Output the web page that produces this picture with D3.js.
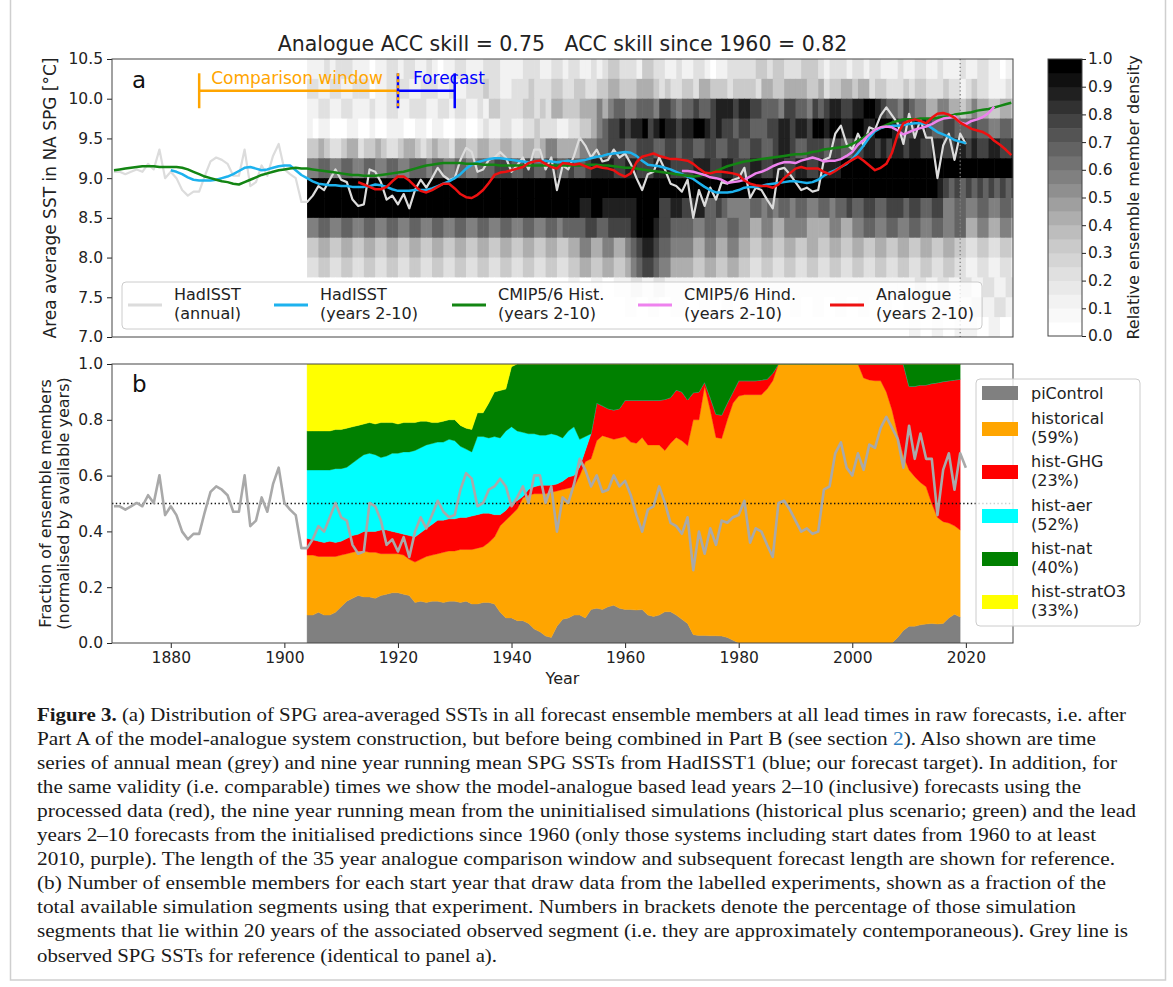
<!DOCTYPE html>
<html>
<head>
<meta charset="utf-8">
<script src="https://cdn.jsdelivr.net/npm/d3@7"></script>
<style>
  body { margin: 0; background: #fff; }
</style>
</head>
<body>
<div id="chart"></div>
<script>
// ---------- data ----------

// HadISST annual mean SPG SST (degC), 1870-2020
const annualStart = 1870;
const hadisstAnnual = [
  9.08, 9.08, 9.05, 9.08, 9.11, 9.08, 9.18, 9.11, 9.36, 9.00,
  9.08, 9.00, 8.85, 8.78, 8.83, 8.83, 9.03, 9.21, 9.26, 9.23,
  9.18, 9.03, 9.03, 9.36, 8.90, 8.95, 9.16, 9.03, 9.28, 9.43,
  9.11, 9.05, 9.00, 8.70, 8.70, 8.78, 8.90, 8.85, 8.98, 9.11,
  8.98, 8.95, 8.73, 8.65, 8.67, 9.11, 9.08, 8.95, 8.73, 8.78,
  8.67, 8.80, 8.62, 8.85, 8.98, 8.88, 9.00, 9.13, 9.03, 8.98,
  9.00, 9.23, 9.38, 9.33, 9.08, 9.11, 9.23, 9.26, 9.33, 9.26,
  9.08, 9.16, 9.26, 9.11, 9.36, 9.36, 9.11, 9.26, 8.85, 9.16,
  9.11, 9.28, 9.51, 9.41, 9.26, 9.36, 9.21, 9.23, 9.36, 9.26,
  9.31, 9.18, 9.00, 8.85, 9.05, 9.08, 9.26, 9.11, 8.93, 8.90,
  8.83, 8.98, 8.50, 8.85, 8.65, 8.88, 8.73, 8.95, 8.93, 8.98,
  9.00, 9.13, 8.75, 8.88, 8.85, 8.73, 8.62, 9.11, 9.13, 9.05,
  8.95, 8.85, 8.88, 8.83, 8.85, 9.23, 9.26, 9.56, 9.66, 9.43,
  9.36, 9.56, 9.41, 9.64, 9.61, 9.79, 9.89, 9.79, 9.69, 9.43,
  9.81, 9.51, 9.74, 9.51, 9.51, 9.00, 9.41, 9.56, 9.23, 9.56,
  9.43
];

// HadISST years 2-10 running mean, 1880-2020
const runningStart = 1880;
const hadisstRunning = [
  9.10, 9.08, 9.05, 9.01, 8.98, 8.97, 8.97, 8.97, 8.98, 9.00,
  9.02, 9.05, 9.09, 9.13, 9.14, 9.12, 9.10, 9.11, 9.13, 9.15,
  9.16, 9.16, 9.10, 9.04, 9.00, 8.96, 8.93, 8.92, 8.91, 8.91,
  8.90, 8.90, 8.89, 8.89, 8.89, 8.90, 8.92, 8.91, 8.89, 8.86,
  8.84, 8.84, 8.84, 8.85, 8.85, 8.85, 8.87, 8.90, 8.93, 8.96,
  9.00, 9.05, 9.12, 9.17, 9.20, 9.22, 9.24, 9.25, 9.25, 9.24,
  9.23, 9.22, 9.21, 9.20, 9.21, 9.21, 9.22, 9.21, 9.20, 9.21,
  9.22, 9.21, 9.22, 9.23, 9.25, 9.27, 9.28, 9.30, 9.31, 9.32,
  9.33, 9.32, 9.28, 9.22, 9.17, 9.16, 9.15, 9.13, 9.11, 9.08,
  9.05, 9.02, 8.99, 8.94, 8.89, 8.85, 8.82, 8.82, 8.82, 8.83,
  8.85, 8.88, 8.89, 8.89, 8.90, 8.92, 8.93, 8.94, 8.95, 8.96,
  8.96, 8.95, 8.94, 8.95, 8.98, 9.03, 9.07, 9.10, 9.14, 9.18,
  9.24, 9.32, 9.41, 9.51, 9.59, 9.63, 9.65, 9.66, 9.66, 9.67,
  9.68, 9.69, 9.69, 9.68, 9.63, 9.58, 9.55, 9.52, 9.48, 9.46,
  9.44
];

// CMIP5/6 historical years 2-10, 1870-2028
const histStart = 1870;
const cmipHist = [
  9.10, 9.11, 9.12, 9.13, 9.14, 9.15, 9.15, 9.15, 9.14, 9.14,
  9.14, 9.14, 9.13, 9.11, 9.08, 9.05, 9.02, 9.00, 8.98, 8.96,
  8.95, 8.93, 8.92, 8.95, 8.98, 9.01, 9.04, 9.06, 9.08, 9.10,
  9.11, 9.12, 9.13, 9.12, 9.12, 9.11, 9.10, 9.09, 9.08, 9.07,
  9.06, 9.05, 9.04, 9.04, 9.03, 9.03, 9.03, 9.04, 9.05, 9.06,
  9.07, 9.08, 9.10, 9.12, 9.14, 9.16, 9.17, 9.18, 9.19, 9.19,
  9.19, 9.19, 9.18, 9.18, 9.18, 9.17, 9.17, 9.17, 9.16, 9.16,
  9.16, 9.16, 9.16, 9.16, 9.16, 9.16, 9.16, 9.16, 9.16, 9.16,
  9.16, 9.16, 9.16, 9.17, 9.17, 9.17, 9.16, 9.16, 9.15, 9.14,
  9.13, 9.13, 9.12, 9.11, 9.10, 9.09, 9.08, 9.07, 9.06, 9.05,
  9.04, 9.03, 9.02, 9.03, 9.05, 9.07, 9.09, 9.12, 9.15, 9.17,
  9.19, 9.21, 9.22, 9.23, 9.24, 9.25, 9.26, 9.27, 9.28, 9.29,
  9.30, 9.30, 9.31, 9.33, 9.34, 9.36, 9.37, 9.38, 9.39, 9.40,
  9.43, 9.47, 9.51, 9.56, 9.61, 9.64, 9.67, 9.70, 9.72, 9.74,
  9.74, 9.74, 9.75, 9.75, 9.75, 9.76, 9.77, 9.78, 9.80, 9.81,
  9.82, 9.83, 9.85, 9.86, 9.87, 9.89, 9.91, 9.93, 9.95
];

// CMIP5/6 hindcasts years 2-10, 1970-2025
const hindStart = 1970;
const cmipHind = [
  9.09, 9.09, 9.08, 9.06, 9.04, 9.01, 9.00, 8.98, 8.94, 8.95,
  8.96, 8.98, 9.02, 9.06, 9.08, 9.11, 9.15, 9.18, 9.20, 9.20,
  9.19, 9.22, 9.24, 9.26, 9.24, 9.21, 9.22, 9.22, 9.24, 9.28,
  9.33, 9.42, 9.48, 9.55, 9.61, 9.64, 9.65, 9.64, 9.60, 9.55,
  9.58, 9.61, 9.63, 9.65, 9.68, 9.72, 9.75, 9.76, 9.78, 9.70,
  9.68, 9.72, 9.74, 9.77, 9.82, 9.90
];

// Analogue forecast years 2-10, 1913-2028
const analogueStart = 1913;
const analogue = [
  8.95, 8.92, 8.89, 8.86, 8.86, 8.89, 8.96,
  9.02, 9.02, 8.97, 8.90, 8.84, 8.82, 8.85, 8.89, 8.93, 8.93,
  8.87, 8.80, 8.76, 8.75, 8.79, 8.85, 8.94, 9.04, 9.07, 9.08,
  9.10, 9.12, 9.14, 9.19, 9.21, 9.22, 9.18, 9.14, 9.12, 9.19,
  9.18, 9.17, 9.18, 9.15, 9.12, 9.15, 9.13, 9.12, 9.10, 9.05,
  9.02, 9.06, 9.20, 9.27, 9.29, 9.31, 9.28, 9.26, 9.24, 9.24,
  9.23, 9.22, 9.18, 9.12, 9.07, 9.06, 9.08, 9.08, 9.07, 9.06,
  9.04, 8.97, 8.93, 8.91, 8.90, 8.90, 8.88, 8.92, 9.00, 9.06,
  9.12, 9.14, 9.12, 9.12, 9.12, 9.08, 9.05, 9.09, 9.14, 9.19,
  9.23, 9.27, 9.22, 9.16, 9.10, 9.13, 9.18, 9.32, 9.55, 9.69,
  9.72, 9.74, 9.72, 9.69, 9.76, 9.81, 9.82, 9.80, 9.76, 9.70,
  9.66, 9.62, 9.60, 9.58, 9.54, 9.47, 9.42, 9.36, 9.29
];

// relative ensemble member density, one string per 0.25 degC bin (top edge listed),
// one digit per year 1904-2028, digit/9 = density
const densityStart = 1904;
const densityBinTop = [10.5, 10.25, 10.0, 9.75, 9.5, 9.25, 9.0, 8.75, 8.5, 8.25, 8.0, 7.75, 7.5, 7.25];
const densityRows = [
  "111212 2211101122 1221121011 2211122211 1122211221 2211212332 2213322112 1122101122 2223323322 2333212221 2212211121 1221121112 112211011",
  "221122 1122201122 2211222112 1122232211 2223222332 2332233443 3344432322 3324433323 3332443344 4433423344 3442332223 2332223221 232211121",
  "112211 2211121122 1122211221 2211213322 2233232443 3344454566 5566657765 6676678887 8877666577 6657678877 8899876657 6554455443 454433443",
  "101100 0110010011 1001101100 1100121122 1122322211 2233456778 7889789887 8899878776 7766677887 8879989988 9988999877 7887667766 676655665",
  "334322 3442334322 3443234332 4433443344 3344345544 4455566777 6677766776 7766776677 6677667887 6677767766 7788787887 8877887788 787788778",
  "556655 6655665566 5566656655 6655666777 6677667766 7667888877 8877788877 7788877887 7788778877 8877888899 9999999999 9999999999 999999999",
  "999999 9999999999 9999999999 9999999999 9999999999 9999999999 9999999999 9999999999 9999999999 9999999999 9999999999 9999987676 767676767",
  "999999 9999999999 9999999999 9999999999 9999999999 9988998888 8899997788 7788667655 5566565665 6655665667 6677667776 7766775566 556655665",
  "556655 6655665566 5566556655 6655665566 5566556656 6667766777 7899987766 6655665566 5544554455 5544445544 5566556655 6655665566 445544554",
  "334433 4433443344 3344334433 4433443344 3344334433 4455445544 5678876655 5544554455 4433443344 3344334433 4433443344 3344334433 223322332",
  "223322 3322332233 2233223322 3322332233 2233223322 3344334433 4567765544 4433443344 3322332233 2233223322 3322332233 2233223322 112211221",
  "000000 0000000000 0000000000 0000000000 0000000000 1100110011 1221122111 1111111111 1111111111 1111111111 1111111111 1221122112 211221122",
  "000000 0000000000 0000000000 0000000000 0000000000 0000000000 1100110011 1001100110 0110011001 1001100110 0110011001 1111111111 122112211",
  "000000 0000000000 0000000000 0000000000 0000000000 0000000000 0000000000 0000000000 0000000000 0000000000 0000000000 1100110011 110011001"
];

// panel (b): fraction of ensemble members per start year 1904-2019
const stackStart = 1904;
const piControl = [
  .10,.10,.11,.10,.10,.11,
  .13,.15,.16,.17,.165,.165,.16,.17,.175,.18,
  .18,.175,.17,.145,.15,.145,.15,.15,.145,.15,
  .15,.145,.15,.14,.14,.145,.145,.14,.11,.09,
  .09,.08,.08,.07,.05,.04,.025,.02,.06,.085,
  .09,.10,.10,.09,.12,.125,.12,.13,.135,.125,
  .12,.12,.118,.12,.10,.095,.10,.112,.112,.10,
  .085,.07,.03,.027,.027,.026,.026,.025,.02,.01,
  0,0,0,0,0,0,0,0,0,0,
  0,0,0,0,0,0,0,0,0,0,
  0,0,0,0,0,0,0,0,.02,.045,
  .06,.06,.065,.068,.07,.068,.07,.09,.103,.093
];
const historical = [
  .215,.215,.20,.21,.21,.20,
  .185,.17,.165,.16,.165,.16,.165,.15,.145,.14,
  .14,.14,.13,.145,.15,.165,.165,.17,.18,.18,
  .18,.19,.185,.195,.20,.20,.215,.24,.31,.35,
  .37,.40,.44,.46,.485,.495,.51,.52,.485,.465,
  .465,.46,.50,.56,.54,.60,.623,.607,.595,.61,
  .62,.60,.598,.617,.61,.615,.61,.578,.604,.637,
  .64,.637,.77,.773,.893,.809,.711,.708,.78,.85,
  .885,.89,.89,.89,.89,.91,.94,1,1,1,
  1,1,1,1,1,1,1,1,1,1,
  1,1,.95,.943,.94,.94,.90,.835,.73,.625,
  .56,.536,.51,.492,.43,.382,.365,.34,.317,.312
];
const histGHG = [
  .06,.055,.055,.05,.055,.05,
  .05,.055,.06,.06,.07,.075,.075,.085,.085,.08,
  .075,.075,.085,.09,.095,.10,.11,.12,.115,.115,
  .115,.115,.115,.12,.12,.12,.105,.08,.04,.035,
  .04,.03,.005,.02,.025,.03,.03,.025,.025,.03,
  .04,.04,.03,.04,.09,.135,.107,.103,.105,.105,
  .13,.15,.154,.133,.16,.16,.16,.183,.164,.17,
  .175,.164,.097,.10,.015,.045,.083,.084,.06,.04,
  .055,.05,.05,.05,.053,.035,.027,0,0,0,
  0,0,0,0,0,0,0,0,0,0,
  0,0,.05,.057,.06,.06,.10,.165,.25,.33,
  .30,.324,.35,.365,.43,.483,.502,.51,.523,.54
];
const histAer = [
  .245,.25,.255,.26,.255,.265,
  .26,.255,.26,.27,.275,.28,.275,.26,.265,.28,
  .285,.295,.30,.31,.305,.30,.29,.28,.28,.285,
  .28,.255,.245,.23,.28,.275,.27,.28,.275,.285,
  .275,.25,.23,.20,.19,.18,.18,.185,.175,.155,
  .165,.175,.10,.05,0,0,0,0,0,0,
  0,0,0,0,0,0,0,0,0,0,
  0,0,0,0,0,0,0,0,0,0,
  0,0,0,0,0,0,0,0,0,0,
  0,0,0,0,0,0,0,0,0,0,
  0,0,0,0,0,0,0,0,0,0,
  0,0,0,0,0,0,0,0,0,0
];
const histNat = [
  .14,.14,.14,.14,.14,.14,
  .14,.14,.13,.12,.11,.11,.11,.125,.12,.11,
  .105,.105,.105,.10,.095,.085,.075,.07,.075,.07,
  .075,.075,.075,.08,.085,.085,.125,.16,.17,.15,
  .215,.24,.245,.25,.25,.255,.255,.25,.255,.265,
  .24,.225,.27,.26,.25,.14,.15,.16,.165,.16,
  .13,.13,.13,.13,.13,.13,.13,.127,.12,.093,
  .10,.129,.103,.10,.065,.12,.18,.183,.14,.10,
  .06,.06,.06,.06,.057,.055,.033,0,0,0,
  0,0,0,0,0,0,0,0,0,0,
  0,0,0,0,0,0,0,0,0,0,
  .08,.08,.075,.075,.07,.067,.063,.06,.057,.055
];
const histStratO3 = [
  .24,.24,.24,.24,.24,.235,
  .235,.23,.225,.22,.215,.21,.215,.21,.21,.21,
  .215,.21,.21,.21,.205,.205,.21,.21,.205,.20,
  .20,.22,.23,.235,.175,.175,.14,.10,.095,.09,
  .01,0,0,0,0,0,0,0,0,0,
  0,0,0,0,0,0,0,0,0,0,
  0,0,0,0,0,0,0,0,0,0,
  0,0,0,0,0,0,0,0,0,0,
  0,0,0,0,0,0,0,0,0,0,
  0,0,0,0,0,0,0,0,0,0,
  0,0,0,0,0,0,0,0,0,0,
  0,0,0,0,0,0,0,0,0,0
];

const experiments = ["piControl", "historical", "hist-GHG", "hist-aer", "hist-nat", "hist-stratO3"];
const experimentPct = [null, "(59%)", "(23%)", "(52%)", "(40%)", "(33%)"];
const experimentColors = ["#808080", "#ffa500", "#ff0000", "#00ffff", "#008000", "#ffff00"];
const experimentSeries = [piControl, historical, histGHG, histAer, histNat, histStratO3];

const compWindow = [1885, 1920];
const forecastSpan = [1920, 1930];
const lastStartYear = 2019;

const yearTicks = [1880, 1900, 1920, 1940, 1960, 1980, 2000, 2020];
const sstTicks = [7.0, 7.5, 8.0, 8.5, 9.0, 9.5, 10.0, 10.5];
const fracTicks = [0, 0.2, 0.4, 0.6, 0.8, 1.0];
const densityTicks = [0, 0.1, 0.2, 0.3, 0.4, 0.5, 0.6, 0.7, 0.8, 0.9, 1.0];

const captionLines = [
  "(a) Distribution of SPG area-averaged SSTs in all forecast ensemble members at all lead times in raw forecasts, i.e. after",
  "Part A of the model-analogue system construction, but before being combined in Part B (see section 2). Also shown are time",
  "series of annual mean (grey) and nine year running mean SPG SSTs from HadISST1 (blue; our forecast target). In addition, for",
  "the same validity (i.e. comparable) times we show the model-analogue based lead years 2\u201310 (inclusive) forecasts using the",
  "processed data (red), the nine year running mean from the uninitialised simulations (historical plus scenario; green) and the lead",
  "years 2\u201310 forecasts from the initialised predictions since 1960 (only those systems including start dates from 1960 to at least",
  "2010, purple). The length of the 35 year analogue comparison window and subsequent forecast length are shown for reference.",
  "(b) Number of ensemble members for each start year that draw data from the labelled experiments, shown as a fraction of the",
  "total available simulation segments using that experiment. Numbers in brackets denote the percentage of those simulation",
  "segments that lie within 20 years of the associated observed segment (i.e. they are approximately contemporaneous). Grey line is",
  "observed SPG SSTs for reference (identical to panel a)."
];

// ---------- layout ----------
const W = 1173, H = 987;
const font = '"DejaVu Sans", sans-serif';
const axA = {left: 112, right: 1013, top: 59, bottom: 337};
const axB = {left: 112, right: 1013, top: 364, bottom: 643};
const cbBox = {left: 1048, right: 1082, top: 59, bottom: 336};

const svg = d3.select("#chart").append("svg")
  .attr("width", W).attr("height", H)
  .style("font-family", font);

// outer figure frame
svg.append("rect")
  .attr("x", 10.5).attr("y", -2).attr("width", 1155).attr("height", 982)
  .attr("fill", "none").attr("stroke", "#cfcfcf").attr("stroke-width", 1.5);

const x = d3.scaleLinear().domain([1869.65, 2028.3]).range([axA.left, axA.right]);
const yA = d3.scaleLinear().domain([7, 10.5]).range([axA.bottom, axA.top]);
const yB = d3.scaleLinear().domain([0, 1]).range([axB.bottom, axB.top]);
// the grey SST line in (b) is the same series put on the fraction axis
const yBsst = d3.scaleLinear().domain([7.84, 10.37]).range([axB.bottom, axB.top]);

const toPoints = (arr, start) => arr.map((v, i) => ({year: start + i, v: v}));

const defs = svg.append("defs");
defs.append("clipPath").attr("id", "clipA").append("rect")
  .attr("x", axA.left).attr("y", axA.top)
  .attr("width", axA.right - axA.left).attr("height", axA.bottom - axA.top);
defs.append("clipPath").attr("id", "clipB").append("rect")
  .attr("x", axB.left).attr("y", axB.top)
  .attr("width", axB.right - axB.left).attr("height", axB.bottom - axB.top);

function styleAxis(g, size) {
  g.attr("font-family", null).attr("font-size", null)
    .style("font-size", size).style("font-family", font);
  g.select(".domain").remove();
  g.selectAll(".tick line").attr("stroke", "#222");
  g.selectAll(".tick text").attr("fill", "#222");
}

// ---------- panel a ----------
const gA = svg.append("g");
const plotA = gA.append("g").attr("clip-path", "url(#clipA)");

// density colour: 20 discrete grey levels
const greyLevels = d3.range(20).map(i => d3.interpolateGreys(i / 19));
const densityColor = d3.scaleQuantize().domain([0, 1]).range(greyLevels);

const cells = [];
densityRows.forEach((row, r) => {
  row.replace(/ /g, "").split("").forEach((ch, i) => {
    cells.push({year: densityStart + i, top: densityBinTop[r], d: +ch / 9});
  });
});
plotA.append("g").selectAll("rect")
  .data(cells)
  .join("rect")
    .attr("x", d => x(d.year))
    .attr("y", d => yA(d.top))
    .attr("width", d => x(d.year + 1) - x(d.year) + 0.6)
    .attr("height", d => yA(d.top - 0.25) - yA(d.top) + 0.6)
    .attr("fill", d => densityColor(d.d));

// last start year marker
plotA.append("line")
  .attr("x1", x(lastStartYear)).attr("x2", x(lastStartYear))
  .attr("y1", axA.top).attr("y2", axA.bottom)
  .attr("stroke", "#808080").attr("stroke-width", 1.3).attr("stroke-dasharray", "1.3,2.6");

// comparison window / forecast markers
const annY = 10.1, annH = 0.22;
const ann = gA.append("g").attr("stroke-width", 2.5).attr("fill", "none");
ann.append("line").attr("stroke", "#ffa500")
  .attr("x1", x(compWindow[0])).attr("x2", x(compWindow[1])).attr("y1", yA(annY)).attr("y2", yA(annY));
ann.append("line").attr("stroke", "#ffa500")
  .attr("x1", x(compWindow[0])).attr("x2", x(compWindow[0])).attr("y1", yA(annY + annH)).attr("y2", yA(annY - annH));
ann.append("line").attr("stroke", "#0000ff")
  .attr("x1", x(forecastSpan[0])).attr("x2", x(forecastSpan[1])).attr("y1", yA(annY)).attr("y2", yA(annY));
ann.append("line").attr("stroke", "#0000ff")
  .attr("x1", x(forecastSpan[1])).attr("x2", x(forecastSpan[1])).attr("y1", yA(annY + annH)).attr("y2", yA(annY - annH));
ann.append("line").attr("stroke", "#0000ff")
  .attr("x1", x(forecastSpan[0])).attr("x2", x(forecastSpan[0])).attr("y1", yA(annY + annH)).attr("y2", yA(annY - annH));
ann.append("line").attr("stroke", "#ffa500").attr("stroke-dasharray", "3,3")
  .attr("x1", x(forecastSpan[0])).attr("x2", x(forecastSpan[0])).attr("y1", yA(annY + annH)).attr("y2", yA(annY - annH));
gA.append("text").attr("x", x(compWindow[0]) + 12).attr("y", yA(annY) - 7)
  .attr("fill", "#ffa500").style("font-size", "17px").text("Comparison window");
gA.append("text").attr("x", x(forecastSpan[0]) + 15).attr("y", yA(annY) - 7)
  .attr("fill", "#0000ff").style("font-size", "17px").text("Forecast");

// lines
const lineA = d3.line().x(d => x(d.year)).y(d => yA(d.v));
const seriesA = [
  {data: toPoints(hadisstAnnual, annualStart), color: "#dcdcdc", w: 2.2},
  {data: toPoints(hadisstRunning, runningStart), color: "#1db2ee", w: 2.5},
  {data: toPoints(cmipHist, histStart), color: "#138513", w: 2.5},
  {data: toPoints(cmipHind, hindStart), color: "#ee82ee", w: 2.5},
  {data: toPoints(analogue, analogueStart), color: "#ee1111", w: 2.5}
];
plotA.selectAll("path.series")
  .data(seriesA)
  .join("path")
    .attr("class", "series")
    .attr("d", d => lineA(d.data))
    .attr("fill", "none")
    .attr("stroke", d => d.color)
    .attr("stroke-width", d => d.w)
    .attr("stroke-linejoin", "round");

// legend a
const legA = gA.append("g");
legA.append("rect").attr("x", 122).attr("y", 282).attr("width", 860).attr("height", 47)
  .attr("rx", 4).attr("fill", "#fff").attr("fill-opacity", 0.8).attr("stroke", "#cccccc");
const legAItems = [
  {lines: ["HadISST", "(annual)"], x0: 128},
  {lines: ["HadISST", "(years 2-10)"], x0: 274},
  {lines: ["CMIP5/6 Hist.", "(years 2-10)"], x0: 452},
  {lines: ["CMIP5/6 Hind.", "(years 2-10)"], x0: 638},
  {lines: ["Analogue", "(years 2-10)"], x0: 830}
];
legAItems.forEach((it, i) => {
  legA.append("line").attr("x1", it.x0).attr("x2", it.x0 + 34).attr("y1", 305).attr("y2", 305)
    .attr("stroke", seriesA[i].color).attr("stroke-width", 3);
  const t = legA.append("text").attr("x", it.x0 + 46).attr("y", 300).style("font-size", "16px").attr("fill", "#222");
  t.append("tspan").attr("x", it.x0 + 46).attr("y", 300).text(it.lines[0]);
  t.append("tspan").attr("x", it.x0 + 46).attr("y", 319).text(it.lines[1]);
});

// axes a
const axisAY = gA.append("g").attr("transform", `translate(${axA.left},0)`)
  .call(d3.axisLeft(yA).tickValues(sstTicks).tickFormat(d3.format(".1f")).tickSize(5).tickPadding(4));
styleAxis(axisAY, "15.5px");
gA.append("rect").attr("x", axA.left).attr("y", axA.top)
  .attr("width", axA.right - axA.left).attr("height", axA.bottom - axA.top)
  .attr("fill", "none").attr("stroke", "#444").attr("stroke-width", 1);
gA.append("text").attr("transform", `translate(50,${(axA.top + axA.bottom) / 2}) rotate(-90)`)
  .attr("text-anchor", "middle").attr("dy", "0.35em").style("font-size", "17px").attr("fill", "#222")
  .text("Area average SST in NA SPG [\u00b0C]");
gA.append("text").attr("x", 132).attr("y", 88).style("font-size", "23px").attr("fill", "#111").text("a");

svg.append("text").attr("x", (axA.left + axA.right) / 2).attr("y", 51)
  .attr("text-anchor", "middle").style("font-size", "20.5px").style("white-space", "pre")
  .attr("xml:space", "preserve").attr("fill", "#222")
  .text("Analogue ACC skill = 0.75   ACC skill since 1960 = 0.82");

// colorbar
const cbY = d3.scaleLinear().domain([0, 1]).range([cbBox.bottom, cbBox.top]);
svg.append("g").selectAll("rect")
  .data(greyLevels)
  .join("rect")
    .attr("x", cbBox.left)
    .attr("y", (c, i) => cbY((i + 1) / 20))
    .attr("width", cbBox.right - cbBox.left)
    .attr("height", cbY(0) - cbY(0.05) + 0.4)
    .attr("fill", c => c);
svg.append("rect").attr("x", cbBox.left).attr("y", cbBox.top)
  .attr("width", cbBox.right - cbBox.left).attr("height", cbBox.bottom - cbBox.top)
  .attr("fill", "none").attr("stroke", "#444");
const cbAxis = svg.append("g").attr("transform", `translate(${cbBox.right},0)`)
  .call(d3.axisRight(cbY).tickValues(densityTicks).tickFormat(d3.format(".1f")).tickSize(4).tickPadding(2));
styleAxis(cbAxis, "15.5px");
svg.append("text").attr("transform", `translate(1133,${(cbBox.top + cbBox.bottom) / 2}) rotate(-90)`)
  .attr("text-anchor", "middle").attr("dy", "0.35em").style("font-size", "16px").attr("fill", "#222")
  .text("Relative ensemble member density");

// ---------- panel b ----------
const gB = svg.append("g");
const plotB = gB.append("g").attr("clip-path", "url(#clipB)");

const stackRows = piControl.map((v, i) => {
  const row = {year: stackStart + i};
  experiments.forEach((k, j) => { row[k] = experimentSeries[j][i]; });
  return row;
});
const stacked = d3.stack().keys(experiments)(stackRows);
const areaB = d3.area()
  .x(d => x(d.data.year))
  .y0(d => yB(d[0]))
  .y1(d => yB(d[1]));
plotB.selectAll("path.layer")
  .data(stacked)
  .join("path")
    .attr("class", "layer")
    .attr("d", areaB)
    .attr("fill", (d, i) => experimentColors[i])
    .attr("stroke", (d, i) => experimentColors[i])
    .attr("stroke-width", 0.4);

plotB.append("line")
  .attr("x1", axB.left).attr("x2", axB.right).attr("y1", yB(0.5)).attr("y2", yB(0.5))
  .attr("stroke", "#111").attr("stroke-width", 1.4).attr("stroke-dasharray", "1.4,2.4");

plotB.append("path")
  .datum(toPoints(hadisstAnnual, annualStart))
  .attr("d", d3.line().x(d => x(d.year)).y(d => yBsst(d.v)))
  .attr("fill", "none").attr("stroke", "#a9a9a9").attr("stroke-width", 2.6).attr("stroke-linejoin", "round");

const axisBY = gB.append("g").attr("transform", `translate(${axB.left},0)`)
  .call(d3.axisLeft(yB).tickValues(fracTicks).tickFormat(d3.format(".1f")).tickSize(5).tickPadding(4));
styleAxis(axisBY, "15.5px");
const axisBX = gB.append("g").attr("transform", `translate(0,${axB.bottom})`)
  .call(d3.axisBottom(x).tickValues(yearTicks).tickFormat(d3.format("d")).tickSize(5).tickPadding(4));
styleAxis(axisBX, "15.5px");
gB.append("rect").attr("x", axB.left).attr("y", axB.top)
  .attr("width", axB.right - axB.left).attr("height", axB.bottom - axB.top)
  .attr("fill", "none").attr("stroke", "#444").attr("stroke-width", 1);
gB.append("text").attr("x", (axB.left + axB.right) / 2).attr("y", 684)
  .attr("text-anchor", "middle").style("font-size", "16px").attr("fill", "#222").text("Year");
const yLabB = gB.append("text").attr("transform", `translate(45,${(axB.top + axB.bottom) / 2}) rotate(-90)`)
  .attr("text-anchor", "middle").style("font-size", "16px").attr("fill", "#222");
yLabB.append("tspan").attr("x", 0).attr("dy", "0.35em").text("Fraction of ensemble members");
yLabB.append("tspan").attr("x", 0).attr("dy", "1.15em").text("(normalised by available years)");
gB.append("text").attr("x", 132).attr("y", 392).style("font-size", "23px").attr("fill", "#111").text("b");

// legend b
const legB = gB.append("g");
legB.append("rect").attr("x", 976).attr("y", 379).attr("width", 164).attr("height", 247)
  .attr("rx", 4).attr("fill", "#fff").attr("fill-opacity", 0.8).attr("stroke", "#cccccc");
const legBY = [393, 429, 472, 516, 559, 602];
experiments.forEach((k, i) => {
  legB.append("rect").attr("x", 982).attr("y", legBY[i] - 7).attr("width", 36).attr("height", 14)
    .attr("fill", experimentColors[i]);
  const t = legB.append("text").style("font-size", "16px").attr("fill", "#222");
  if (experimentPct[i]) {
    t.append("tspan").attr("x", 1031).attr("y", legBY[i] - 5).text(k);
    t.append("tspan").attr("x", 1031).attr("y", legBY[i] + 14).text(experimentPct[i]);
  } else {
    t.append("tspan").attr("x", 1031).attr("y", legBY[i] + 6).text(k);
  }
});

// ---------- caption ----------
const capX = 37, capY0 = 721, capStep = 24.05;
const capEnds = [1126, 1096, 1117, 1081, 1136, 1096, 1115, 1106, 1076, 1128, 497];
const cap = svg.append("g").style("font-family", '"Liberation Serif", "Times New Roman", serif')
  .style("font-size", "18px").attr("fill", "#1a1a1a");
captionLines.forEach((line, i) => {
  const t = cap.append("text").attr("x", capX).attr("y", capY0 + i * capStep)
    .attr("textLength", capEnds[i] - capX).attr("lengthAdjust", "spacingAndGlyphs");
  if (i === 0) {
    t.append("tspan").style("font-weight", "bold").text("Figure 3. ");
    t.append("tspan").text(line);
  } else if (i === 1) {
    const k = line.indexOf("section 2") + 8;
    t.append("tspan").text(line.slice(0, k));
    t.append("tspan").attr("fill", "#2f7fc1").text(line.slice(k, k + 1));
    t.append("tspan").text(line.slice(k + 1));
  } else {
    t.text(line);
  }
});
</script>
</body>
</html>
